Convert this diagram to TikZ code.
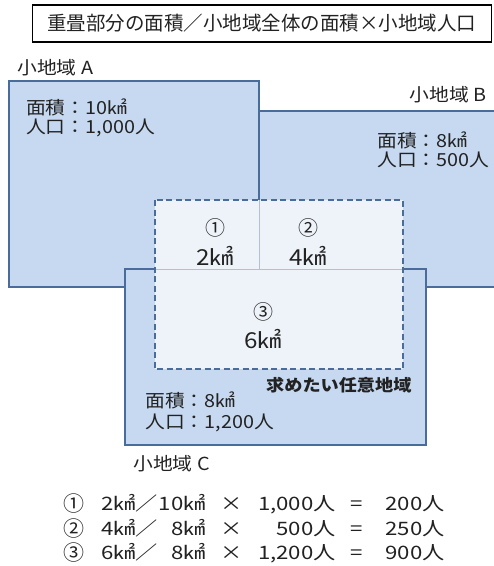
\documentclass[tikz,border=0pt]{standalone}
\usepackage{fontspec}
\setmainfont{Noto Sans CJK JP}
\newfontfamily\wfont[FakeStretch=1.1]{Noto Sans CJK JP}
\newfontfamily\ffont[FakeStretch=1.2]{Noto Sans CJK JP}
\definecolor{regfill}{HTML}{C6D9F1}
\definecolor{regline}{HTML}{4A6C9B}
\definecolor{areafill}{HTML}{EEF3FA}
\definecolor{divline}{HTML}{B4C0D0}
\definecolor{txt}{HTML}{222222}
\tikzset{
  region/.style={fill=regfill, draw=regline, line width=2pt},
  lbl/.style={inner sep=0pt, text=txt, anchor=base west, font=\wfont\fontsize{18}{20}\selectfont},
  bold/.style={inner sep=0pt, text=txt, anchor=base west, font=\wfont\fontsize{16.5}{19}\selectfont\bfseries},
  circ/.style={inner sep=0pt, text=txt, font=\fontsize{20}{22}\selectfont},
  big/.style={inner sep=0pt, text=txt, anchor=base, font=\wfont\fontsize{22}{24}\selectfont},
  fl/.style={inner sep=0pt, text=txt, font=\ffont\fontsize{18.5}{20}\selectfont},
}
\begin{document}
\begin{tikzpicture}[x=1pt,y=-1pt]
\useasboundingbox (0,0) rectangle (494,566);
% title
\node[draw=black, line width=1.3pt, minimum width=459pt, minimum height=37pt, inner sep=0pt, font=\fontsize{19.5}{21}\selectfont, text=txt] (title) at (262,23.5) {重畳部分の面積／小地域全体の面積×小地域人口};
% regions A, B
\path[region] (9,81) rectangle (259,287);
\path[region] (259,111) rectangle (500,287);
% region C
\path[region] (125,269) rectangle (426,445);
% target area
\path[fill=areafill] (155,200) rectangle (403,369);
\draw[divline, line width=1pt] (259,200) -- (259,269);
\draw[divline, line width=1pt] (155,269) -- (403,269);
\draw[regline, line width=2pt] (259,111) -- (259,200);
\draw[regline, line width=1.6pt, dash pattern=on 6pt off 3.5pt] (155,200) rectangle (403,369);
% labels
\node[lbl] (labA) at (17,74) {小地域 A};
\node[lbl, anchor=base east] (labB) at (487,101) {小地域 B};
\node[lbl] (labC) at (133,470) {小地域 C};
\node[lbl] (infoA1) at (26,114) {面積：10㎢};
\node[lbl] (infoA2) at (26,133) {人口：1,000人};
\node[lbl] (infoB1) at (377,147) {面積：8㎢};
\node[lbl] (infoB2) at (377,166) {人口：500人};
\node[lbl] (infoC1) at (145,407) {面積：8㎢};
\node[lbl] (infoC2) at (145,428) {人口：1,200人};
\node[bold] (target) at (266,391) {求めたい任意地域};
% pieces
\node[circ] (n1) at (215,228) {①};
\node[big] (a1) at (215,265) {2㎢};
\node[circ] (n2) at (308,228) {②};
\node[big] (a2) at (308,265) {4㎢};
\node[circ] (n3) at (263,312) {③};
\node[big] (a3) at (263,348) {6㎢};
% formulas
\foreach \y/\n/\num/\den/\pop/\res [count=\i] in {510/①/2㎢／/10㎢/{1,000人}/200人, 535/②/4㎢／/8㎢/500人/250人, 559/③/6㎢／/8㎢/{1,200人}/900人}{
  \node[circ, font=\fontsize{21}{22}\selectfont, anchor=base] (fn\i) at (74,\y+1) {\n};
  \node[fl, anchor=base west] (fa\i) at (101,\y) {\num};
  \node[fl, anchor=base east] (fd\i) at (206,\y) {\den};
  \node[fl, anchor=base] (fx\i) at (232,\y) {×};
  \node[fl, anchor=base east] (fp\i) at (336,\y) {\pop};
  \node[fl, anchor=base] (fe\i) at (357,\y) {=};
  \node[fl, anchor=base east] (fr\i) at (445,\y) {\res};
}
\end{tikzpicture}
\end{document}
